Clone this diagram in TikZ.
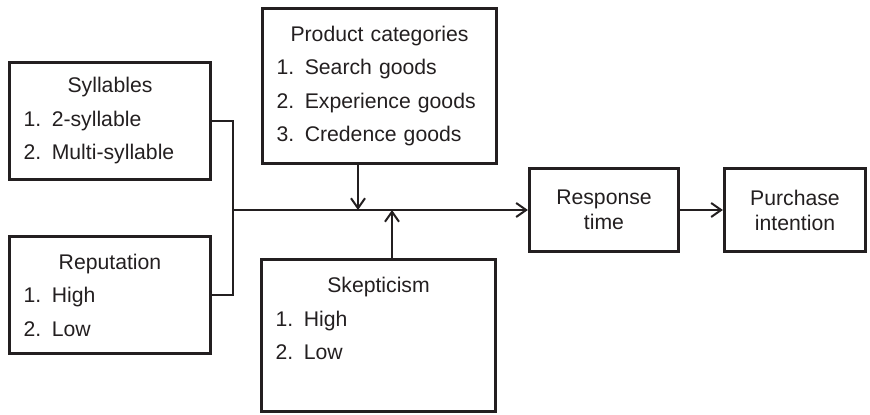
\documentclass[tikz,border=0pt]{standalone}
\usepackage{fontspec}
\setmainfont{Liberation Sans}
\usepackage{tikz}
\usetikzlibrary{positioning,arrows.meta}
\definecolor{ink}{RGB}{35,31,32}
\newcommand{\boxhead}[1]{\makebox[\linewidth]{#1}}

\begin{document}
\begin{tikzpicture}[x=0.5pt,y=-0.5pt,
        listbox/.style = {
            draw=ink,
            line width=1.6pt,
            text=ink,
            align=left,
            inner xsep=7pt,
            font=\fontsize{10.6}{16.75}\selectfont
        },
        smallbox/.style = {
            draw=ink,
            line width=1.6pt,
            text=ink,
            align=center,
            minimum height=41.5pt,
            font=\fontsize{10.6}{12.5}\selectfont
        },
        link/.style = {draw=ink, line width=1pt},
        >={Straight Barb[length=5pt,width=7pt,line width=1pt]}]

        \useasboundingbox (0,0) rectangle (870,415);

        \node[listbox, text width=86.5pt, minimum height=58.5pt] (syl) at (110,121)
            {\boxhead{Syllables}\\1.\enspace 2-syllable\\2.\enspace Multi-syllable};
        \node[listbox, text width=86.5pt, minimum height=58.5pt] (rep) at (110,295)
            {\boxhead{Reputation}\\1.\enspace High\\2.\enspace Low};
        \node[listbox, text width=103pt, minimum height=77.5pt] (prod) at (379.5,86)
            {\boxhead{Product categories}\\1.\enspace Search goods\\2.\enspace Experience goods\\3.\enspace Credence goods};
        \node[listbox, text width=103pt, minimum height=76pt] (skep) at (378.5,335.5)
            {\boxhead{Skepticism}\\1.\enspace High\\2.\enspace Low\\\mbox{}};
        \node[smallbox, minimum width=74.5pt] (resp) at (604,210) {Response\\time};
        \node[smallbox, minimum width=70.5pt] (purch) at (795,210) {Purchase\\intention};

        \coordinate (join) at (233,210);
        \coordinate (pin) at (358,210);
        \coordinate (sin) at (392,210);

        \draw[link] (syl.east) -| (join) |- (rep.east);
        \draw[link, ->] (join) -- (resp.west);
        \draw[link, ->] (prod.south -| pin) -- (pin);
        \draw[link, ->] (skep.north -| sin) -- (sin);
        \draw[link, ->] (resp) -- (purch);
    \end{tikzpicture}
\end{document}
